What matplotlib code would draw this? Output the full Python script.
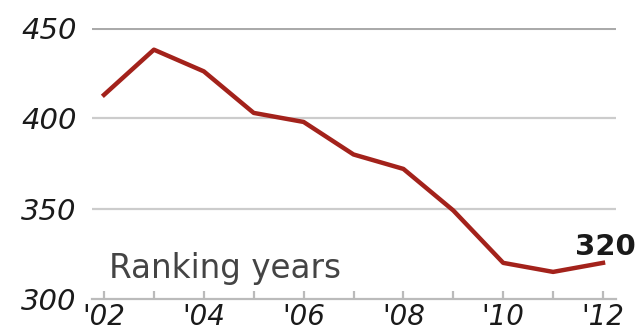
import matplotlib
matplotlib.use('Agg')
import matplotlib.pyplot as plt

# Ranking by year
years = [2002, 2003, 2004, 2005, 2006, 2007, 2008, 2009, 2010, 2011, 2012]
ranks = [413, 438, 426, 403, 398, 380, 372, 349, 320, 315, 320]
y_ticks = [300, 350, 400, 450]
x_ticks = [2002, 2004, 2006, 2008, 2010, 2012]
x_labels = ["'02", "'04", "'06", "'08", "'10", "'12"]

line_color = '#a3221b'
font = 'DejaVu Sans'

W, H = 639, 331
fig = plt.figure(figsize=(W / 100, H / 100), dpi=100)
ax = fig.add_axes([92 / W, (H - 299) / H, (616 - 92) / W, (299 - 28) / H])

ax.set_xlim(2002 - 12 / 49.9, 2012 + 13 / 49.9)
ax.set_ylim(300, 450)

for spine in ax.spines.values():
    spine.set_visible(False)

# horizontal rules: darker at top, lighter in between, baseline at bottom
ax.axhline(450, color='#aaaaaa', lw=2.2, zorder=1)
ax.axhline(400, color='#cccccc', lw=1.6, zorder=1)
ax.axhline(350, color='#cccccc', lw=1.6, zorder=1)
ax.axhline(300, color='#bbbbbb', lw=1.6, zorder=1, clip_on=False)

ax.plot(years, ranks, color=line_color, lw=3.2, solid_joinstyle='round', zorder=3)

ax.set_yticks(y_ticks)
ax.set_yticklabels([str(v) for v in y_ticks], fontfamily=font, fontstyle='oblique',
                   fontsize=21, color='#1a1a1a')
ax.tick_params(axis='y', length=0, pad=11)

ax.set_xticks(years)
ax.set_xticklabels([x_labels[x_ticks.index(y)] if y in x_ticks else '' for y in years],
                   fontfamily=font, fontstyle='oblique', fontsize=20, color='#1a1a1a')
ax.tick_params(axis='x', direction='in', length=6, width=1.6, color='#bbbbbb', pad=3)

ax.text(2002.1, 311.7, 'Ranking years', fontfamily=font, fontsize=23.5,
        color='#444444', va='baseline', ha='left')
ax.text(2011.44, 324.4, str(ranks[-1]), fontfamily=font, fontweight='bold',
        fontsize=21, color='#1a1a1a', va='baseline', ha='left', clip_on=False)

fig.savefig('out.png', dpi=100)
